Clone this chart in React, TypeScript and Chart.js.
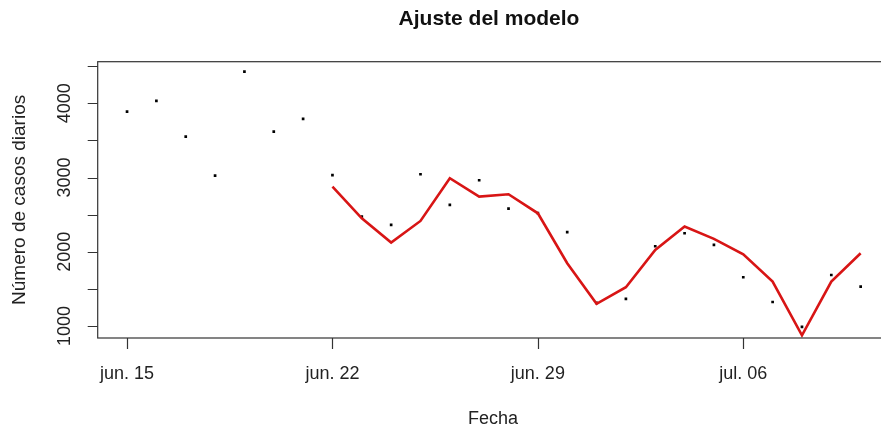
import React, { useEffect, useRef } from "react";
import { Chart, registerables } from "chart.js";

Chart.register(...registerables);

// Dates (one per day, jun. 15 -> jul. 10)
const fechas = [
  "jun. 15", "jun. 16", "jun. 17", "jun. 18", "jun. 19", "jun. 20", "jun. 21",
  "jun. 22", "jun. 23", "jun. 24", "jun. 25", "jun. 26", "jun. 27", "jun. 28",
  "jun. 29", "jun. 30", "jul. 01", "jul. 02", "jul. 03", "jul. 04", "jul. 05",
  "jul. 06", "jul. 07", "jul. 08", "jul. 09", "jul. 10",
];

// Observed daily cases (points)
const casos = [
  3888, 4032, 3551, 3026, 4427, 3619, 3790,
  3031, 2473, 2361, 3044, 2631, 2963, 2581,
  2520, 2263, 1310, 1364, 2074, 2249, 2092,
  1656, 1323, 987, 1687, 1530,
];

// Model fit (red line), starting on jun. 22
const modeloInicio = 7;
const modelo = [
  2877, 2451, 2123, 2415, 2990, 2743, 2775,
  2518, 1845, 1298, 1522, 2024, 2339, 2173,
  1966, 1597, 875, 1597, 1980,
];

// Axis ticks
const xTickDays = [0, 7, 14, 21];
const xTickLabels = ["jun. 15", "jun. 22", "jun. 29", "jul. 06"];
const yTicks = [1000, 1500, 2000, 2500, 3000, 3500, 4000, 4500];
const yTickLabels = [1000, 2000, 3000, 4000];

const titulo = "Ajuste del modelo";
const xTitulo = "Fecha";
const yTitulo = "Número de casos diarios";

const W = 900;
const H = 432;
const FONT = "'Liberation Sans', Arial, sans-serif";

export default function App() {
  const ref = useRef<HTMLCanvasElement | null>(null);

  useEffect(() => {
    document.body.style.margin = "0";
    document.body.style.overflow = "hidden";
    const canvas = ref.current;
    if (!canvas) return;

    const axesPlugin = {
      id: "rAxes",
      afterDraw(chart: any) {
        const ctx = chart.ctx as CanvasRenderingContext2D;
        const { left, right, top, bottom } = chart.chartArea;
        const xs = chart.scales.x;
        const ys = chart.scales.y;
        ctx.save();
        ctx.strokeStyle = "#333";
        ctx.lineWidth = 1.2;
        ctx.strokeRect(left, top, right - left, bottom - top);

        // y ticks
        ctx.beginPath();
        for (const v of yTicks) {
          const py = Math.round(ys.getPixelForValue(v)) + 0.5;
          ctx.moveTo(left, py);
          ctx.lineTo(left - 10, py);
        }
        // x ticks
        for (const d of xTickDays) {
          const px = Math.round(xs.getPixelForValue(d)) + 0.5;
          ctx.moveTo(px, bottom);
          ctx.lineTo(px, bottom + 11);
        }
        ctx.stroke();

        ctx.fillStyle = "#222";
        ctx.font = `18px ${FONT}`;
        // x tick labels
        ctx.textAlign = "center";
        ctx.textBaseline = "alphabetic";
        xTickDays.forEach((d, i) => {
          ctx.fillText(xTickLabels[i], xs.getPixelForValue(d), 379);
        });
        // y tick labels (rotated)
        for (const v of yTickLabels) {
          const py = ys.getPixelForValue(v);
          ctx.save();
          ctx.translate(70, py);
          ctx.rotate(-Math.PI / 2);
          ctx.textAlign = "center";
          ctx.fillText(String(v), 0, 0);
          ctx.restore();
        }
        // axis titles
        ctx.textAlign = "center";
        ctx.fillText(xTitulo, 493, 424);
        ctx.save();
        ctx.font = `19px ${FONT}`;
        ctx.translate(25, (top + bottom) / 2);
        ctx.rotate(-Math.PI / 2);
        ctx.fillText(yTitulo, 0, 0);
        ctx.restore();
        // main title
        ctx.fillStyle = "#111";
        ctx.font = `bold 21px ${FONT}`;
        ctx.fillText(titulo, 489, 25);
        ctx.restore();
      },
    };

    const chart = new Chart(canvas, {
      type: "scatter",
      data: {
        datasets: [
          {
            type: "line",
            label: "Modelo",
            data: modelo.map((v, i) => ({ x: modeloInicio + i, y: v })),
            borderColor: "#D81515",
            borderWidth: 2.6,
            pointRadius: 0,
            fill: false,
            tension: 0,
            order: 0,
          } as any,
          {
            label: "Casos",
            data: casos.map((v, i) => ({ x: i, y: v })),
            backgroundColor: "#000",
            borderWidth: 0,
            pointStyle: "rect",
            pointRadius: 1.9,
            order: 1,
          },
        ],
      },
      options: {
        responsive: false,
        animation: false,
        devicePixelRatio: 1,
        layout: { padding: { left: 97.7, right: W - 890, top: 61.7, bottom: H - 338 } },
        plugins: {
          legend: { display: false },
          tooltip: { enabled: false },
          title: { display: false },
        },
        scales: {
          x: { type: "linear", display: false, min: -1, max: 26 },
          y: { type: "linear", display: false, min: 838, max: 4560 },
        },
      },
      plugins: [axesPlugin],
    });
    return () => chart.destroy();
  }, []);

  return (
    <div style={{ position: "absolute", left: 0, top: 0, width: W, height: H, background: "#fff" }}>
      <canvas ref={ref} width={W} height={H} style={{ width: W, height: H, display: "block" }} />
    </div>
  );
}
